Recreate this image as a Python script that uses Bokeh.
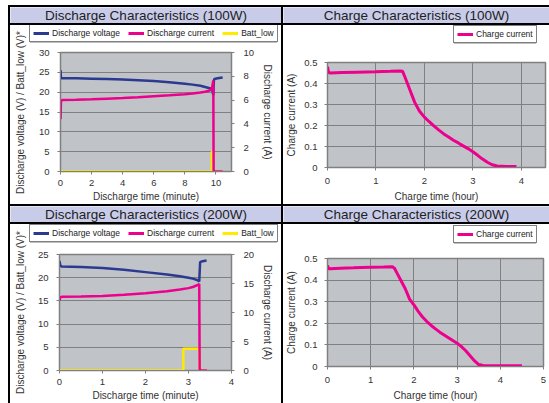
import math
from bokeh.plotting import figure
from bokeh.models import (Range1d, LinearAxis, Legend, LegendItem, Label, Spacer, BoxAnnotation,
                          SingleIntervalTicker, NumeralTickFormatter)
from bokeh.layouts import row, column
from bokeh.embed import file_html
from bokeh.resources import INLINE

# ---------------- data ----------------
titles = ["Discharge Characteristics (100W)", "Charge Characteristics (100W)",
          "Discharge Characteristics (200W)", "Charge Characteristics (200W)"]

# Discharge 100W
d100_t_v = [0, 0.03, 0.1, 1, 2, 3, 4, 5, 6, 7, 8, 8.5, 9, 9.3, 9.6, 9.75, 9.83, 9.87, 9.9, 10.1, 10.43]
d100_volt = [25.6, 23.6, 23.5, 23.5, 23.4, 23.3, 23.2, 23.0, 22.8, 22.5, 22.1, 21.9, 21.6, 21.3, 21.0, 20.7, 19.2, 23.0, 23.3, 23.5, 23.7]
d100_t_c = [0, 0.03, 0.1, 1, 2, 3, 4, 5, 6, 7, 8, 8.5, 9, 9.3, 9.5, 9.65, 9.75, 9.83, 9.85, 10.43]
d100_curr = [4.4, 5.9, 6.0, 6.03, 6.07, 6.12, 6.17, 6.24, 6.32, 6.4, 6.5, 6.56, 6.64, 6.7, 6.76, 6.85, 7.05, 7.65, 0, 0]
d100_t_b = [0, 9.73, 9.73, 9.83, 9.83, 10.43]
d100_batt = [0, 0, 5, 5, 0, 0]

# Discharge 200W
d200_t_v = [0, 0.02, 0.05, 0.5, 1, 1.5, 2, 2.5, 2.8, 3.0, 3.1, 3.2, 3.25, 3.27, 3.3, 3.42]
d200_volt = [23.6, 22.6, 22.4, 22.3, 22.1, 21.7, 21.2, 20.7, 20.3, 20.0, 19.8, 19.5, 19.2, 23.3, 23.5, 23.7]
d200_t_c = [0, 0.02, 0.05, 0.5, 1, 1.5, 2, 2.5, 2.8, 3.0, 3.1, 3.2, 3.25, 3.26, 3.43]
d200_curr = [12.1, 12.6, 12.7, 12.75, 12.85, 13.05, 13.3, 13.65, 13.95, 14.2, 14.4, 14.7, 14.9, 0, 0]
d200_t_b = [0, 2.88, 2.88, 3.25, 3.25, 3.43]
d200_batt = [0, 0, 4.7, 4.7, 0, 0]

# Charge 100W
c100_t = [0, 0.02, 0.05, 0.3, 0.6, 1.0, 1.3, 1.5, 1.55, 1.6, 1.7, 1.8, 1.9, 2.0, 2.1, 2.2, 2.3, 2.4,
          2.5, 2.6, 2.7, 2.8, 2.9, 3.0, 3.1, 3.2, 3.3, 3.4, 3.5, 3.7, 3.9]
c100_curr = [0.48, 0.455, 0.45, 0.452, 0.454, 0.456, 0.458, 0.46, 0.458, 0.43, 0.37, 0.31, 0.268, 0.24,
             0.218, 0.197, 0.178, 0.16, 0.145, 0.13, 0.117, 0.103, 0.09, 0.075, 0.058, 0.04, 0.025,
             0.013, 0.007, 0.005, 0.005]

# Charge 200W
c200_t = [0, 0.03, 0.06, 0.3, 0.6, 1.0, 1.3, 1.5, 1.55, 1.6, 1.7, 1.8, 1.9, 2.0, 2.1, 2.2, 2.3, 2.4,
          2.5, 2.6, 2.7, 2.8, 2.9, 3.0, 3.1, 3.2, 3.3, 3.4, 3.5, 3.6, 3.8, 4.2, 4.5]
c200_curr = [0.467, 0.452, 0.452, 0.455, 0.457, 0.46, 0.461, 0.462, 0.455, 0.436, 0.398, 0.36, 0.312,
             0.285, 0.255, 0.229, 0.208, 0.19, 0.174, 0.159, 0.146, 0.133, 0.12, 0.108, 0.092, 0.073,
             0.05, 0.027, 0.009, 0.005, 0.004, 0.004, 0.004]

discharge_labels = ["Discharge voltage", "Discharge current", "Batt_low"]
charge_labels = ["Charge current"]
discharge_ylabel = "Discharge voltage (V) / Batt_low (V)*"

# ---------------- style ----------------
FONT = "Liberation Sans"
NAVY = "#2b3990"
PINK = "#ec008c"
YELLOW = "#ffea00"
PLOTBG = "#c0c4c8"
GRID = "#808080"
TITLEBG = "#c9cce9"
TXT = "#333333"

LW = 271  # left column width
RW = 266  # right column width
PH = 179  # panel height
TH = 16   # title bar height
SH = 20   # legend strip height
YLW = 17  # width of the vertical label strip in discharge panels


def no_align(m):
    if "frame_align" in m.properties():
        m.frame_align = False
    return m


def style_axis(ax, label, tick_standoff, label_standoff):
    ax.axis_label = label
    ax.axis_label_text_font = FONT
    ax.axis_label_text_font_size = "10px"
    ax.axis_label_text_font_style = "normal"
    ax.axis_label_text_color = TXT
    ax.axis_label_standoff = label_standoff
    ax.major_label_text_font = FONT
    ax.major_label_text_font_size = "9.5px"
    ax.major_label_text_color = TXT
    ax.major_label_standoff = tick_standoff
    ax.axis_line_color = GRID
    ax.major_tick_line_color = GRID
    ax.major_tick_in = 0
    ax.major_tick_out = 3
    ax.minor_tick_line_color = None


def base_fig(w, xr, yr, mb):
    p = figure(width=w, height=PH - SH, x_range=Range1d(*xr), y_range=Range1d(*yr),
               toolbar_location=None, output_backend="svg",
               min_border_left=mb[0], min_border_right=mb[1],
               min_border_top=mb[2], min_border_bottom=mb[3])
    no_align(p)
    p.background_fill_color = PLOTBG
    p.border_fill_color = "white"
    p.outline_line_color = GRID
    p.outline_line_width = 1.5
    p.ygrid.grid_line_color = GRID
    p.xgrid.grid_line_color = GRID
    return p


def blank_fig(w, h, bg):
    f = figure(width=w, height=h, x_range=Range1d(0, 1), y_range=Range1d(1000, 1001),
               toolbar_location=None, output_backend="svg", min_border=0,
               x_axis_location=None, y_axis_location=None)
    no_align(f)
    f.grid.visible = False
    f.outline_line_color = None
    f.background_fill_color = bg
    f.border_fill_color = bg
    return f


def legend_strip(w, series, labels, colors, widths, loc, box):
    # the strip's y range lies far from the data, so its lines only serve as legend keys
    s = blank_fig(w, SH, "white")
    items = []
    for (xs, ys), lab, col, lw in zip(series, labels, colors, widths):
        r = s.line(xs, ys, line_color=col, line_width=lw)
        items.append(LegendItem(label=lab, renderers=[r]))
    lg = Legend(items=items, location=loc, orientation="horizontal",
                label_text_font=FONT, label_text_font_size="8.5px", label_text_color="#222222",
                glyph_width=16, glyph_height=8, label_height=8, label_standoff=3, spacing=8,
                padding=3, margin=0, border_line_color="#808080", border_line_width=1,
                border_line_alpha=1.0,
                background_fill_color="white", background_fill_alpha=1.0)
    s.add_layout(lg)
    # explicit frame drawn around the legend box
    bl, bb, bw, bh = box
    s.add_layout(BoxAnnotation(left=bl, right=bl + bw, bottom=bb, top=bb + bh,
                               left_units="screen", right_units="screen",
                               bottom_units="screen", top_units="screen",
                               fill_alpha=0, line_color="#808080", line_width=1,
                               line_alpha=1.0))
    return s


def ylabel_strip(text, ycenter):
    f = blank_fig(YLW, PH, "white")
    f.add_layout(Label(x=10, y=ycenter, x_units="screen", y_units="screen", text=text,
                       angle=math.pi / 2, text_align="center", text_baseline="middle",
                       text_font=FONT, text_font_size="10px", text_color=TXT))
    return f


def discharge_panel(tv, v, tc, c, tb, b, xr, yl, yr, xint, ylint, yrint, mb, legloc, box, ylc):
    w = LW - YLW
    p = base_fig(w, xr, yl, mb)
    p.xgrid.grid_line_color = None
    p.extra_y_ranges = {"cur": Range1d(*yr)}
    p.line(tv, v, line_color=NAVY, line_width=2.5)
    p.line(tb, b, line_color=YELLOW, line_width=2.5)
    p.line(tc, c, line_color=PINK, line_width=2.5, y_range_name="cur")
    p.xaxis.ticker = SingleIntervalTicker(interval=xint)
    p.yaxis.ticker = SingleIntervalTicker(interval=ylint)
    style_axis(p.xaxis[0], "Discharge time (minute)", 4, 2)
    style_axis(p.yaxis[0], None, 7, 0)
    rax = LinearAxis(y_range_name="cur", ticker=SingleIntervalTicker(interval=yrint))
    style_axis(rax, "Discharge current (A)", 8, 5)
    p.add_layout(rax, "right")
    s = legend_strip(w, [(tv, v), (tc, c), (tb, b)], discharge_labels,
                     [NAVY, PINK, YELLOW], [3, 3, 3], legloc, box)
    return row(ylabel_strip(discharge_ylabel, ylc), column(s, p))


def charge_panel(t, c, xr, mb, legloc, box):
    p = base_fig(RW, xr, (0, 0.5), mb)
    p.line(t, c, line_color=PINK, line_width=3)
    p.xaxis.ticker = SingleIntervalTicker(interval=1)
    p.yaxis.ticker = SingleIntervalTicker(interval=0.1)
    p.yaxis.formatter = NumeralTickFormatter(format="0.[0]")
    style_axis(p.xaxis[0], "Charge time (hour)", 6, 4)
    style_axis(p.yaxis[0], "Charge current (A)", 6, 4)
    s = legend_strip(RW, [(t, c)], charge_labels, [PINK], [3], legloc, box)
    return column(s, p)


def title_bar(w, text):
    t = blank_fig(w, TH, TITLEBG)
    t.add_layout(Label(x=w / 2, y=TH / 2, x_units="screen", y_units="screen", text=text,
                       text_align="center", text_baseline="middle",
                       text_font=FONT, text_font_size="13.5px", text_color="#222222"))
    return t


def blk(w, h):
    return Spacer(width=w, height=h, styles={"background-color": "black"})


p1 = discharge_panel(d100_t_v, d100_volt, d100_t_c, d100_curr, d100_t_b, d100_batt,
                     (0, 11), (0, 30), (0, 10), 2, 5, 2, (33, 50, 7, 28), (2, 3),
                     (2.5, 3.5, 247, 14.5), 92)
p2 = charge_panel(c100_t, c100_curr, (0, 4.5), (41, 4, 17, 36), (170, 2),
                  (170.5, 2.5, 82, 14.5))
p3 = discharge_panel(d200_t_v, d200_volt, d200_t_c, d200_curr, d200_t_b, d200_batt,
                     (0, 4), (0, 25), (0, 20), 1, 5, 5, (32, 50, 10, 29), (2, 2),
                     (2.5, 2.5, 247, 14.5), 91)
p4 = charge_panel(c200_t, c200_curr, (0, 5), (40, 6, 14, 35), (170, 1),
                  (170.5, 1.5, 82, 14.5))

TOT = 2 + LW + 2 + RW
root = column(
    blk(TOT, 2),
    row(blk(2, TH), title_bar(LW, titles[0]), blk(2, TH), title_bar(RW, titles[1])),
    blk(TOT, 2),
    row(blk(2, PH), p1, blk(2, PH), p2),
    blk(TOT, 2),
    row(blk(2, TH), title_bar(LW, titles[2]), blk(2, TH), title_bar(RW, titles[3])),
    blk(TOT, 2),
    row(blk(2, PH), p3, blk(2, PH), p4),
    styles={"margin-top": "5px", "margin-left": "8px"},
)

open("out.html", "w").write(file_html(root, INLINE))
